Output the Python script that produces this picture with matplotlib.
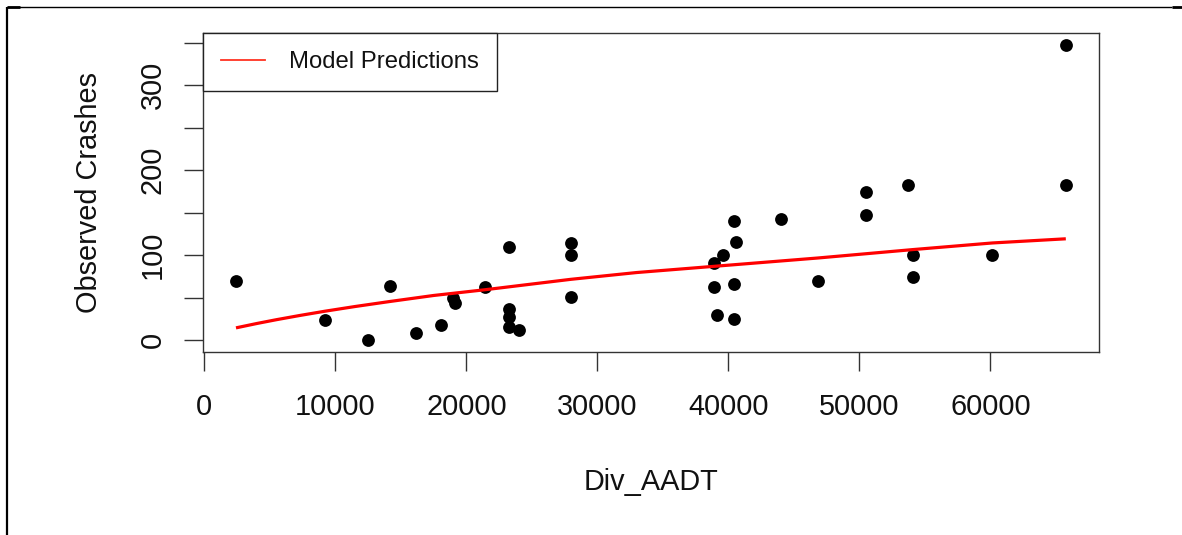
import matplotlib
matplotlib.use("Agg")
import matplotlib.pyplot as plt
from matplotlib.lines import Line2D

plt.rcParams['font.family'] = ['Liberation Sans', 'DejaVu Sans']

div_aadt = [2420, 9214, 12519, 14198, 16160, 18092, 19008, 19137, 21450,
            23282, 23282, 23282, 23282, 24046,
            27970, 27970, 27970,
            38908, 38908, 39160, 39572, 40435, 40565, 40435, 40435,
            44000, 46824, 50488, 50488, 53694, 54076, 54076, 60153,
            65756, 65756]
observed = [69, 24, 0, 64, 8, 18, 50, 44, 62,
            110, 37, 27, 15, 12,
            114, 100, 51,
            91, 63, 29, 100, 140, 115, 66, 25,
            143, 70, 174, 147, 183, 100, 74, 100,
            183, 347]

# Model prediction curve
pred_x = [2420, 4000, 5500, 7300, 9214, 11500, 14198, 17500, 21450, 27970,
          33000, 38908, 46824, 54076, 60153, 65756]
pred_y = [14.4, 19.5, 24, 29, 34, 39.5, 45.5, 52.5, 59.3, 71.5,
          79.5, 86.8, 96.6, 106.5, 114.3, 119.2]

x_ticks = [0, 10000, 20000, 30000, 40000, 50000, 60000]
y_ticks = [0, 50, 100, 150, 200, 250, 300, 350]
y_ticklabels = ['0', '', '100', '', '200', '', '300', '']

W, H = 1182, 535
fig = plt.figure(figsize=(W / 100, H / 100), dpi=100)
left, right, top, bottom = 202.8, 1099.0, 33.3, 352.0
ax = fig.add_axes([left / W, 1 - bottom / H, (right - left) / W, (bottom - top) / H])

ax.scatter(div_aadt, observed, s=85, color='black', zorder=3, linewidths=0)
ax.plot(pred_x, pred_y, color='#ff0000', lw=2.3, zorder=4, solid_capstyle='butt')

ax.set_xlim(-113, 68289)
ax.set_ylim(-14, 361)
ax.set_xticks(x_ticks)
ax.set_xticklabels([str(v) for v in x_ticks])
ax.set_yticks(y_ticks)
ax.set_yticklabels(y_ticklabels, rotation=90, va='center')

for s in ax.spines.values():
    s.set_linewidth(1.0)
    s.set_color('#333333')

ax.tick_params(axis='both', direction='out', length=13.7, width=1.0,
               color='#333333', labelsize=20.8, labelcolor='#111111')
ax.tick_params(axis='x', pad=15.5)
ax.tick_params(axis='y', pad=12.2)

ax.set_xlabel('Div_AADT', fontsize=20.8, color='#111111')
ax.set_ylabel('Observed Crashes', fontsize=20.8, color='#111111')
ax.xaxis.set_label_coords(0.5, (bottom - 482) / (bottom - top))
ax.xaxis.label.set_va('center')
ax.yaxis.set_label_coords((89 - left) / (right - left), 0.5)
ax.yaxis.label.set_va('center')

leg_handle = Line2D([], [], color='#ff3322', lw=1.3)
leg = ax.legend([leg_handle], ['Model Predictions'], loc='upper left',
                bbox_to_anchor=(0, 1), borderaxespad=0, fancybox=False,
                edgecolor='#222222', framealpha=1, borderpad=0.75,
                handlelength=1.86, handletextpad=1.0, fontsize=17.2)
leg.get_frame().set_linewidth(1.0)
for t in leg.get_texts():
    t.set_color('#111111')

# outer frame lines of the original image
def px_line(x0, y0, x1, y1, lw):
    fig.add_artist(Line2D([x0 / W, x1 / W], [1 - y0 / H, 1 - y1 / H],
                          transform=fig.transFigure, color='black', lw=lw,
                          solid_capstyle='butt'))

px_line(6.5, 7.3, 6.5, 535, 1.6)
px_line(6.5, 7.3, 1172, 7.3, 1.0)
px_line(1172, 7.3, 1182, 7.3, 2.0)
px_line(6.5, 7.3, 20, 7.3, 2.0)

fig.savefig('out.png', dpi=100)
